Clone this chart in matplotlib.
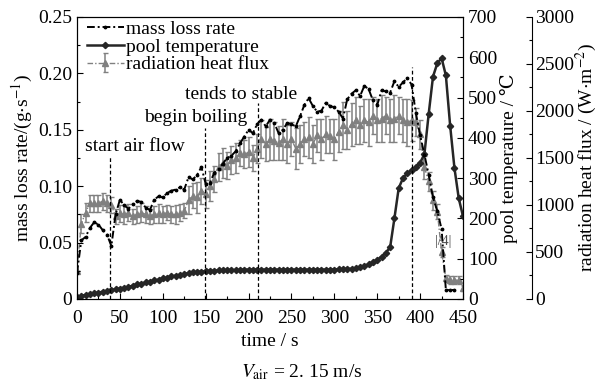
import numpy as np
import matplotlib
matplotlib.use("Agg")
import matplotlib.pyplot as plt

plt.rcParams['font.family'] = ['Liberation Serif', 'DejaVu Serif']
plt.rcParams['mathtext.fontset'] = 'stix'

# time axis, 5 s steps
t = np.arange(0, 455, 5)

# mass loss rate g/s
mass_loss = [0.023, 0.052, 0.055, 0.063, 0.068, 0.066, 0.061, 0.057, 0.047, 0.075,
             0.088, 0.083, 0.080, 0.084, 0.087, 0.086, 0.081, 0.079, 0.088, 0.091,
             0.090, 0.094, 0.096, 0.097, 0.099, 0.097, 0.108, 0.106, 0.110, 0.117,
             0.102, 0.103, 0.112, 0.115, 0.120, 0.125, 0.127, 0.131, 0.138, 0.144,
             0.150, 0.147, 0.155, 0.159, 0.153, 0.159, 0.156, 0.147, 0.150, 0.156,
             0.155, 0.153, 0.162, 0.172, 0.178, 0.171, 0.166, 0.167, 0.174, 0.171,
             0.170, 0.166, 0.160, 0.177, 0.182, 0.185, 0.180, 0.189, 0.186, 0.176,
             0.172, 0.185, 0.184, 0.183, 0.193, 0.188, 0.192, 0.196, 0.190, 0.165,
             0.145, 0.128, 0.110, 0.090, 0.078, 0.062, 0.008, 0.008, 0.008, np.nan,
             np.nan]

# pool temperature, deg C
pool_temp = [5, 8, 10, 12, 14, 16, 18, 20, 22, 24,
             26, 28, 30, 33, 36, 38, 41, 43, 46, 48,
             51, 53, 56, 58, 60, 62, 64, 66, 67, 68,
             69, 70, 70, 71, 71, 72, 72, 72, 72, 73,
             73, 73, 73, 73, 73, 73, 73, 73, 73, 73,
             73, 73, 73, 73, 73, 73, 73, 73, 73, 73,
             73, 74, 74, 75, 75, 77, 79, 82, 86, 91,
             97, 105, 115, 128, 200, 275, 300, 312, 320, 327,
             338, 360, 460, 552, 585, 598, 555, 430, 325, 250,
             205]

# radiation heat flux W/m2 and error bars
rad_flux = [300, 800, 920, 1020, 1020, 1020, 1040, 1020, 1000, 880,
            910, 900, 920, 880, 900, 920, 900, 880, 900, 910,
            900, 920, 900, 900, 920, 940, 1050, 1100, 1080, 1150,
            1120, 1200, 1280, 1400, 1450, 1420, 1480, 1500, 1550, 1540,
            1560, 1500, 1600, 1700, 1650, 1700, 1680, 1660, 1700, 1650,
            1700, 1600, 1650, 1700, 1720, 1650, 1740, 1700, 1750, 1730,
            1700, 1780, 1850, 1800, 1860, 1900, 1850, 1900, 1880, 1950,
            1900, 1920, 1950, 1900, 1920, 1950, 1900, 1880, 1900, 1880,
            1750, 1400, 1250, 1050, 930, 500, 220, 200, 200, 200,
            120]
rad_err = [0, 100, 100, 90, 90, 90, 90, 90, 90,
           80, 90, 100, 90, 80, 90, 100, 90, 80, 90, 100, 90, 80, 90, 100, 90, 80,
           150, 130, 160, 140, 150, 160, 140, 150, 160, 140, 150, 160, 140, 150, 160, 140, 150,
           200, 180, 220, 200, 180, 220, 200, 180, 220, 200, 180, 220, 200, 180, 220, 200, 180, 220,
           220, 250, 200, 230, 250, 200, 230, 250, 200, 230, 250, 200, 230, 250, 200, 230, 250, 220,
           150, 150, 120, 100, 100, 80, 50, 40, 40, 40, 40, 30]

# event lines: time, top (mass loss units), label
events_t = [38, 149, 211, 391]
events_top = [0.126, 0.152, 0.174, 0.206]
event_text = ['start air flow', 'begin boiling', 'tends to stable', '']

fig = plt.figure(figsize=(6.04, 3.88), dpi=100)
ax = fig.add_axes([0.1275, 0.2294, 0.6391, 0.7268])
ax2 = ax.twinx()
ax3 = ax.twinx()
ax3.spines['right'].set_position(('axes', 1.179))
ax3.set_zorder(1)
ax2.set_zorder(2)
ax.set_zorder(3)
ax.patch.set_visible(False)
ax2.patch.set_visible(False)

grey = '0.5'
rad = ax3.errorbar(t, rad_flux, yerr=rad_err, fmt='-^', color=grey, ms=3.8,
                   lw=1.0, elinewidth=1.1, capsize=1.8, dashes=(4, 1.5, 1, 1.5))
pool, = ax2.plot(t, pool_temp, '-D', color='0.15', ms=3.2, lw=1.8)
mlr, = ax.plot(t, mass_loss, color='black', lw=1.4, marker='.', ms=3.5,
               dashes=(4, 1.5, 1, 1.5))

for et, top, txt in zip(events_t, events_top, event_text):
    ax.plot([et, et], [0, top], color='black', lw=0.9, dashes=(3, 2))
ax.text(9, 0.131, event_text[0], fontsize=14)
ax.text(78, 0.157, event_text[1], fontsize=14)
ax.text(126, 0.177, event_text[2], fontsize=14)
ax.text(417, 0.048, '|/4|', fontsize=10, color='0.3')

ax.set_xlim(0, 450)
ax.set_ylim(0, 0.25)
ax2.set_ylim(0, 700)
ax3.set_ylim(0, 3000)
ax.set_xticks(np.arange(0, 451, 50))
ax.set_xticks(np.arange(0, 451, 25), minor=True)
ax.set_yticks([0, 0.05, 0.10, 0.15, 0.20, 0.25])
ax.set_yticklabels(['0', '0.05', '0.10', '0.15', '0.20', '0.25'])
ax.set_yticks(np.arange(0, 0.26, 0.025), minor=True)
ax2.set_yticks(np.arange(0, 701, 100))
ax2.set_yticks(np.arange(0, 701, 50), minor=True)
ax3.set_yticks(np.arange(0, 3001, 500))
ax3.set_yticks(np.arange(0, 3001, 250), minor=True)

for a in (ax, ax2, ax3):
    a.tick_params(direction='in', labelsize=14, length=4, width=0.8)
    a.tick_params(which='minor', direction='in', length=2.5, width=0.8)
ax.tick_params(axis='x', pad=8)
ax3.tick_params(axis='y', pad=2)
ax3.spines['left'].set_visible(False)
ax3.spines['top'].set_visible(False)
ax3.spines['bottom'].set_visible(False)

ax.set_xlabel('time / s', fontsize=14, labelpad=4)
ax.set_ylabel('mass loss rate/(g$\\cdot$s$^{-1}$)', fontsize=14, labelpad=2)
ax2.set_ylabel('pool temperature / ℃', fontsize=14, labelpad=2)
ax3.set_ylabel('radiation heat flux / (W$\\cdot$m$^{-2}$)', fontsize=14, labelpad=0)

leg = ax.legend([mlr, pool, rad], ['mass loss rate', 'pool temperature', 'radiation heat flux'],
                loc='upper left', bbox_to_anchor=(0.0, 1.022), borderaxespad=0, frameon=False,
                fontsize=14, handlelength=1.9, handletextpad=0.1, labelspacing=0.0, borderpad=0.5)

fig.text(0.5, 0.04, '$V_{\\mathrm{air}}$ = 2. 15 m/s', ha='center', va='center', fontsize=14)

fig.savefig('out.png', dpi=100)
